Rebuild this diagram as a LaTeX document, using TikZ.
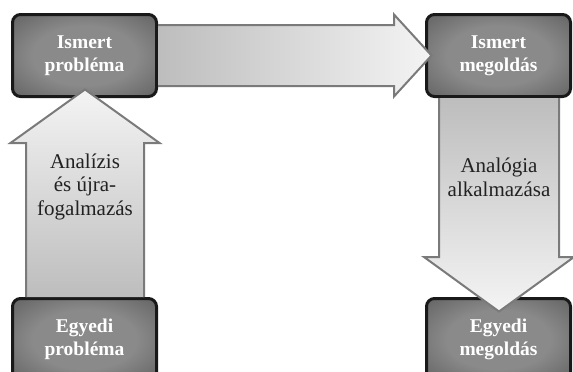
\documentclass[tikz,border=0pt]{standalone}
\usepackage{fontspec}
\setmainfont{Liberation Serif}
\definecolor{boxin}{HTML}{8A8A8A}
\definecolor{boxout}{HTML}{444444}
\definecolor{arrline}{HTML}{7A7A7A}
\definecolor{arrdark}{HTML}{BDBDBD}
\definecolor{arrlight}{HTML}{F4F4F4}
\definecolor{txt}{HTML}{222222}
\pgfdeclareradialshading{boxshade}{\pgfpoint{0bp}{0bp}}{color(0bp)=(boxin); color(18bp)=(boxin); color(50bp)=(boxout); color(80bp)=(boxout)}
\tikzset{
  box/.style={draw=black!90, line width=3pt, rounded corners=8pt, shading=boxshade,
    minimum width=144pt, minimum height=82pt, inner sep=0pt, text=white,
    font=\bfseries\fontsize{19.5}{23}\selectfont},
  arrowbody/.style={draw=arrline, line width=2pt, line join=miter},
  arrowtext/.style={anchor=base, text=txt, inner sep=0pt, font=\fontsize{21}{23.5}\selectfont}
}
\begin{document}
\begin{tikzpicture}[x=1pt, y=-1pt]
\useasboundingbox (0,0) rectangle (573,372);
\clip (0,0) rectangle (573,372);
% boxes
\node[box] (ip) at (84.5,55.5) {\begin{tabular}{@{}c@{}}Ismert\\probléma\end{tabular}};
\node[box] (im) at (498.5,55.5) {\begin{tabular}{@{}c@{}}Ismert\\megoldás\end{tabular}};
\node[box] (ep) at (84.5,339.5) {\begin{tabular}{@{}c@{}}Egyedi\\probléma\end{tabular}};
\node[box] (em) at (498.5,339.5) {\begin{tabular}{@{}c@{}}Egyedi\\megoldás\end{tabular}};
% horizontal arrow
\draw[arrowbody, left color=arrdark, right color=arrlight]
  (ip.east |- 0,25) -- (394,25) -- (394,14.5) -- (431.5,55.5) -- (394,96.5) -- (394,86) -- (ip.east |- 0,86);
% up arrow
\draw[arrowbody, bottom color=arrdark, top color=arrlight]
  (26,0 |- ep.north) -- (26,143) -- (10.5,143) -- (85,89.5) -- (159.5,143) -- (144,143) -- (144,0 |- ep.north);
% down arrow
\draw[arrowbody, top color=arrdark, bottom color=arrlight]
  (439,0 |- im.south) -- (439,257) -- (424,257) -- (499,311.5) -- (574,257) -- (559,257) -- (559,0 |- im.south);
% arrow labels
\node[arrowtext] (t1) at (85,168) {\begin{tabular}[t]{@{}c@{}}Analízis\\és újra-\\fogalmazás\end{tabular}};
\node[arrowtext] (t2) at (499,172) {\fontsize{21}{24.5}\selectfont\begin{tabular}[t]{@{}c@{}}Analógia\\alkalmazása\end{tabular}};
\end{tikzpicture}
\end{document}
